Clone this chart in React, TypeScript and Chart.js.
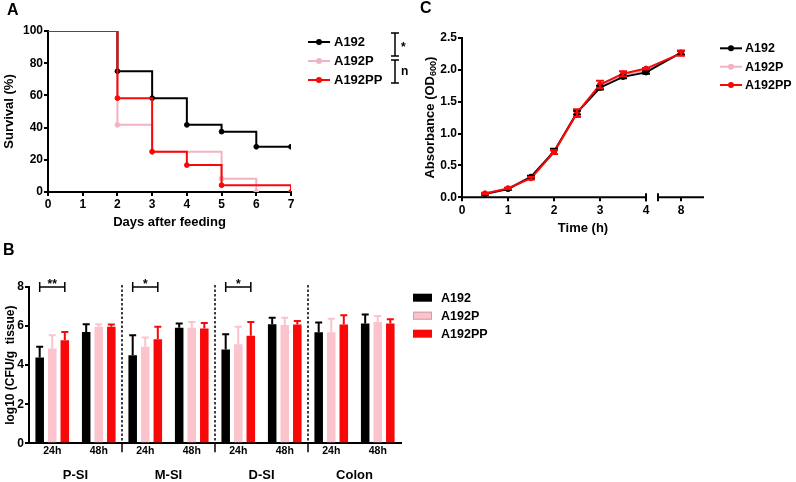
import React, { useEffect, useRef } from "react";
import { Chart, registerables } from "chart.js";

Chart.register(...registerables);

const FONT = "'Liberation Sans', Arial, Helvetica, sans-serif";
const COL_BLACK = "#000000";
const COL_PINK = "#F3B2C1";
const COL_PINK_BAR = "#FBC3CB";
const COL_RED = "#F80808";

const SERIES = ["A192", "A192P", "A192PP"];

// ---------- Panel A : survival ----------
const A_DAY_TICKS = [0, 1, 2, 3, 4, 5, 6, 7];
const A_Y_TICKS = [0, 20, 40, 60, 80, 100];
const A192_DAYS = [0, 2, 3, 4, 5, 6, 7];
const A192_SURV = [100, 75, 58.3, 41.7, 37.5, 28.1, 28.1];
const A192P_DAYS = [0, 2, 3, 5, 6];
const A192P_SURV = [100, 41.7, 25, 8.3, 0];
const A192PP_DAYS = [0, 2, 3, 4, 5, 7];
const A192PP_SURV = [100, 58.3, 25, 16.7, 4.2, 0];
const A_SIG = ["*", "n"];

// ---------- Panel B : colonisation ----------
const B_TIMES = ["24h", "48h", "24h", "48h", "24h", "48h", "24h", "48h"];
const B_SITES = ["P-SI", "M-SI", "D-SI", "Colon"];
const B_Y_TICKS = [0, 2, 4, 6, 8];
const B_A192 = [4.39, 5.7, 4.51, 5.92, 4.8, 6.09, 5.69, 6.13];
const B_A192_ERR = [0.55, 0.39, 1.02, 0.21, 0.78, 0.33, 0.49, 0.46];
const B_A192P = [4.85, 5.96, 4.94, 5.92, 5.07, 6.06, 5.69, 6.21];
const B_A192P_ERR = [0.68, 0.13, 0.47, 0.29, 0.89, 0.36, 0.69, 0.31];
const B_A192PP = [5.28, 5.96, 5.33, 5.87, 5.5, 6.08, 6.08, 6.13];
const B_A192PP_ERR = [0.42, 0.12, 0.63, 0.29, 0.71, 0.18, 0.47, 0.22];
const B_SIG = ["**", "*", "*"];

// ---------- Panel C : growth ----------
const C_TIME = [0.5, 1, 1.5, 2, 2.5, 3, 3.5, 4, 8];
const C_X_TICKS = [0, 1, 2, 3, 4, 8];
const C_Y_TICKS = [0, 0.5, 1, 1.5, 2, 2.5];
const C_A192 = [0.05, 0.13, 0.32, 0.72, 1.33, 1.72, 1.89, 1.96, 2.27];
const C_A192_ERR = [0.01, 0.01, 0.02, 0.04, 0.03, 0.03, 0.02, 0.02, 0.03];
const C_A192P = [0.06, 0.14, 0.33, 0.71, 1.33, 1.75, 1.92, 1.99, 2.26];
const C_A192PP = [0.06, 0.14, 0.3, 0.71, 1.32, 1.77, 1.94, 2.02, 2.26];
const C_A192PP_ERR = [0.01, 0.01, 0.02, 0.03, 0.06, 0.06, 0.04, 0.01, 0.04];
// axis break: 0..4 h shown, then a short segment around 8 h
const C_BREAK_FROM = 4;
const C_BREAK_TO = 8;
const C_BREAK_POS = 4.76;
const C_SEG2_START = 7.5;
const C_SEG2_END = 8.5;
const brk = (t: number) => (t <= C_BREAK_FROM ? t : C_BREAK_POS + (t - C_BREAK_TO));

const bold = (size: number) => ({ family: FONT, size, weight: "bold" as const });

function axisBase(extra: any = {}) {
  return {
    grid: { display: true, drawOnChartArea: false, drawTicks: true, tickLength: 4, color: "#000", lineWidth: 2 },
    border: { display: true, color: "#000", width: 2 },
    ...extra,
  };
}

function drawLineLegend(ctx: CanvasRenderingContext2D, chart: any, x0: number, x1: number, tx: number, ys: number[], size: number) {
  SERIES.forEach((name, i) => {
    const ds = chart.data.datasets.find((d: any) => d.label === name);
    const y = ys[i];
    ctx.save();
    ctx.strokeStyle = ds.borderColor;
    ctx.fillStyle = ds.borderColor;
    ctx.lineWidth = 2;
    ctx.beginPath();
    ctx.moveTo(x0, y);
    ctx.lineTo(x1, y);
    ctx.stroke();
    ctx.beginPath();
    ctx.arc((x0 + x1) / 2, y, 3, 0, Math.PI * 2);
    ctx.fill();
    ctx.fillStyle = "#000";
    ctx.font = `bold ${size}px ${FONT}`;
    ctx.textBaseline = "middle";
    ctx.textAlign = "left";
    ctx.fillText(name, tx, y + 0.5);
    ctx.restore();
  });
}

function configA(): any {
  const mk = (label: string, days: number[], surv: number[], color: string, order: number) => ({
    label,
    data: days.map((d, i) => ({ x: d, y: surv[i] })),
    borderColor: color,
    backgroundColor: color,
    pointBackgroundColor: color,
    pointBorderColor: color,
    pointBorderWidth: 1,
    borderWidth: 2,
    stepped: "before",
    pointRadius: (c: any) => (c.dataIndex === 0 ? 0 : 2.4),
    order,
  });
  return {
    type: "line",
    data: {
      datasets: [
        mk(SERIES[0], A192_DAYS, A192_SURV, COL_BLACK, 1),
        mk(SERIES[1], A192P_DAYS, A192P_SURV, COL_PINK, 2),
        mk(SERIES[2], A192PP_DAYS, A192PP_SURV, COL_RED, 0),
      ],
    },
    options: {
      animation: false,
      responsive: false,
      devicePixelRatio: 1,
      layout: { padding: { left: 0, top: 31, right: 121, bottom: 2 } },
      plugins: { legend: { display: false }, tooltip: { enabled: false } },
      scales: {
        x: axisBase({
          type: "linear",
          min: 0,
          max: 7,
          afterBuildTicks: (s: any) => { s.ticks = A_DAY_TICKS.map((v) => ({ value: v })); },
          afterFit: (s: any) => { s.height = 38; },
          ticks: { font: bold(12), color: "#000", padding: 1.5, maxRotation: 0 },
          title: { display: true, text: "Days after feeding", font: bold(13), color: "#000", padding: { top: 0, bottom: 0 } },
        }),
        y: axisBase({
          type: "linear",
          min: 0,
          max: 100,
          afterBuildTicks: (s: any) => { s.ticks = A_Y_TICKS.map((v) => ({ value: v })); },
          afterFit: (s: any) => { s.width = 48; },
          ticks: { font: bold(12), color: "#000", padding: 1 },
          title: { display: true, text: "Survival (%)", font: bold(13), color: "#000", padding: { top: 2, bottom: 0 } },
        }),
      },
    },
    plugins: [
      {
        id: "aExtras",
        afterDraw(chart: any) {
          const ctx = chart.ctx as CanvasRenderingContext2D;
          drawLineLegend(ctx, chart, 308, 330, 334, [42, 61, 80], 13);
          // significance brackets
          ctx.save();
          ctx.strokeStyle = "#000";
          ctx.lineWidth = 1.5;
          const bx = 395;
          [[33, 56], [60, 83]].forEach(([y0, y1], i) => {
            ctx.beginPath();
            ctx.moveTo(bx - 4, y0); ctx.lineTo(bx + 4, y0);
            ctx.moveTo(bx, y0); ctx.lineTo(bx, y1);
            ctx.moveTo(bx - 4, y1); ctx.lineTo(bx + 4, y1);
            ctx.stroke();
            ctx.fillStyle = "#000";
            ctx.font = `bold 12px ${FONT}`;
            ctx.textAlign = "left";
            ctx.textBaseline = "middle";
            ctx.fillText(A_SIG[i], bx + 6, (y0 + y1) / 2 + (i === 0 ? 3 : 0));
          });
          ctx.restore();
        },
      },
    ],
  };
}

function configB(): any {
  const mk = (label: string, data: number[], err: number[], color: string) => ({
    label,
    data,
    errors: err,
    backgroundColor: color,
    borderWidth: 0,
    categoryPercentage: 0.81,
    barPercentage: 0.68,
  });
  const colors = [COL_BLACK, COL_PINK_BAR, COL_RED];
  return {
    type: "bar",
    data: {
      labels: B_TIMES,
      datasets: [
        mk(SERIES[0], B_A192, B_A192_ERR, COL_BLACK),
        mk(SERIES[1], B_A192P, B_A192P_ERR, COL_PINK_BAR),
        mk(SERIES[2], B_A192PP, B_A192PP_ERR, COL_RED),
      ],
    },
    options: {
      animation: false,
      responsive: false,
      devicePixelRatio: 1,
      layout: { padding: { left: 0, top: 52, right: 139, bottom: 0 } },
      plugins: { legend: { display: false }, tooltip: { enabled: false } },
      scales: {
        x: {
          type: "category",
          grid: { display: false, drawTicks: false },
          border: { display: true, color: "#000", width: 2 },
          afterFit: (s: any) => { s.height = 38.7; },
          ticks: { font: bold(10.5), color: "#000", padding: 2, maxRotation: 0, autoSkip: false },
        },
        y: axisBase({
          type: "linear",
          min: 0,
          max: 8,
          afterBuildTicks: (s: any) => { s.ticks = B_Y_TICKS.map((v) => ({ value: v })); },
          afterFit: (s: any) => { s.width = 29; },
          ticks: { font: bold(12), color: "#000", padding: 1 },
          title: { display: true, text: "log10 (CFU/g  tissue)", font: bold(12), color: "#000", padding: { top: 3, bottom: 0 } },
        }),
      },
    },
    plugins: [
      {
        id: "bExtras",
        afterDatasetsDraw(chart: any) {
          const ctx = chart.ctx as CanvasRenderingContext2D;
          const yS = chart.scales.y;
          ctx.save();
          chart.data.datasets.forEach((ds: any, di: number) => {
            const meta = chart.getDatasetMeta(di);
            ctx.strokeStyle = colors[di];
            ctx.lineWidth = 2;
            meta.data.forEach((el: any, j: number) => {
              const top = yS.getPixelForValue(ds.data[j] + ds.errors[j]);
              ctx.beginPath();
              ctx.moveTo(el.x, el.y);
              ctx.lineTo(el.x, top);
              ctx.moveTo(el.x - 3.5, top);
              ctx.lineTo(el.x + 3.5, top);
              ctx.stroke();
            });
          });
          ctx.restore();
        },
        afterDraw(chart: any) {
          const ctx = chart.ctx as CanvasRenderingContext2D;
          const xS = chart.scales.x;
          const yS = chart.scales.y;
          const area = chart.chartArea;
          ctx.save();
          // section separators
          for (let k = 0; k < B_SITES.length - 1; k++) {
            const sx = (xS.getPixelForValue(2 * k + 1) + xS.getPixelForValue(2 * k + 2)) / 2;
            ctx.strokeStyle = "#000";
            ctx.lineWidth = 1.5;
            ctx.setLineDash([2.5, 2]);
            ctx.beginPath();
            ctx.moveTo(sx, yS.getPixelForValue(8) - 2);
            ctx.lineTo(sx, area.bottom);
            ctx.stroke();
            ctx.setLineDash([]);
            ctx.beginPath();
            ctx.moveTo(sx, area.bottom);
            ctx.lineTo(sx, area.bottom + 9);
            ctx.stroke();
          }
          // site labels
          ctx.fillStyle = "#000";
          ctx.font = `bold 13px ${FONT}`;
          ctx.textAlign = "center";
          ctx.textBaseline = "middle";
          B_SITES.forEach((s, k) => {
            const cx = (xS.getPixelForValue(2 * k) + xS.getPixelForValue(2 * k + 1)) / 2;
            ctx.fillText(s, cx, area.bottom + 32);
          });
          // significance brackets over 24h groups
          const m0 = chart.getDatasetMeta(0);
          const m2 = chart.getDatasetMeta(2);
          const by = yS.getPixelForValue(8);
          ctx.strokeStyle = "#000";
          ctx.lineWidth = 1.5;
          B_SIG.forEach((sig, k) => {
            const x0 = m0.data[2 * k].x;
            const x1 = m2.data[2 * k].x;
            ctx.beginPath();
            ctx.moveTo(x0, by); ctx.lineTo(x1, by);
            ctx.moveTo(x0, by - 5); ctx.lineTo(x0, by + 5);
            ctx.moveTo(x1, by - 5); ctx.lineTo(x1, by + 5);
            ctx.stroke();
            ctx.font = `bold 12px ${FONT}`;
            ctx.textAlign = "center";
            ctx.textBaseline = "alphabetic";
            ctx.fillText(sig, (x0 + x1) / 2, by + 1);
          });
          // legend
          const ys = [62.7, 80.7, 98.7];
          SERIES.forEach((name, i) => {
            ctx.fillStyle = colors[i];
            ctx.fillRect(413, ys[i] - 4, 19, 8);
            if (i === 1) {
              ctx.strokeStyle = "#D99AA3";
              ctx.lineWidth = 1;
              ctx.strokeRect(413.5, ys[i] - 3.5, 18, 7);
            }
            ctx.fillStyle = "#000";
            ctx.font = `bold 12.5px ${FONT}`;
            ctx.textAlign = "left";
            ctx.textBaseline = "middle";
            ctx.fillText(name, 441, ys[i] + 0.5);
          });
          ctx.restore();
        },
      },
    ],
  };
}

function configC(): any {
  const mk = (label: string, vals: number[], err: number[] | null, color: string, order: number) => ({
    label,
    data: C_TIME.map((t, i) => ({ x: brk(t), y: vals[i] })),
    errors: err,
    borderColor: color,
    backgroundColor: color,
    pointBackgroundColor: color,
    pointBorderColor: color,
    pointBorderWidth: 1,
    borderWidth: 2,
    pointRadius: 2.6,
    order,
  });
  return {
    type: "line",
    data: {
      datasets: [
        mk(SERIES[0], C_A192, C_A192_ERR, COL_BLACK, 1),
        mk(SERIES[1], C_A192P, null, COL_PINK, 2),
        mk(SERIES[2], C_A192PP, C_A192PP_ERR, COL_RED, 0),
      ],
    },
    options: {
      animation: false,
      responsive: false,
      devicePixelRatio: 1,
      layout: { padding: { left: 0, top: 38, right: 92, bottom: 4 } },
      plugins: { legend: { display: false }, tooltip: { enabled: false } },
      scales: {
        x: axisBase({
          type: "linear",
          min: 0,
          max: brk(C_SEG2_END),
          border: { display: false },
          afterBuildTicks: (s: any) => { s.ticks = C_X_TICKS.map((v) => ({ value: brk(v) })); },
          afterFit: (s: any) => { s.height = 38.7; },
          ticks: {
            font: bold(12),
            color: "#000",
            padding: 2,
            maxRotation: 0,
            callback: (_v: any, i: number) => String(C_X_TICKS[i]),
          },
          title: { display: true, text: "Time (h)", font: bold(13), color: "#000", padding: { top: 0, bottom: 0 } },
        }),
        y: axisBase({
          type: "linear",
          min: 0,
          max: 2.5,
          afterBuildTicks: (s: any) => { s.ticks = C_Y_TICKS.map((v) => ({ value: v })); },
          afterFit: (s: any) => { s.width = 62; },
          ticks: { font: bold(12), color: "#000", padding: 1, callback: (v: any) => Number(v).toFixed(1) },
          title: { display: false },
        }),
      },
    },
    plugins: [
      {
        id: "cExtras",
        afterDatasetsDraw(chart: any) {
          const ctx = chart.ctx as CanvasRenderingContext2D;
          const yS = chart.scales.y;
          ctx.save();
          [1, 0, 2].forEach((di) => {
            const ds = chart.data.datasets[di];
            if (!ds.errors) return;
            const meta = chart.getDatasetMeta(di);
            ctx.strokeStyle = ds.borderColor;
            ctx.lineWidth = 2;
            meta.data.forEach((el: any, j: number) => {
              const e = ds.errors[j];
              const t = yS.getPixelForValue(ds.data[j].y + e);
              const b = yS.getPixelForValue(ds.data[j].y - e);
              ctx.beginPath();
              ctx.moveTo(el.x, t); ctx.lineTo(el.x, b);
              ctx.moveTo(el.x - 4, t); ctx.lineTo(el.x + 4, t);
              ctx.moveTo(el.x - 4, b); ctx.lineTo(el.x + 4, b);
              ctx.stroke();
            });
          });
          ctx.restore();
        },
        afterDraw(chart: any) {
          const ctx = chart.ctx as CanvasRenderingContext2D;
          const xS = chart.scales.x;
          const area = chart.chartArea;
          const y = area.bottom;
          ctx.save();
          // broken x axis
          ctx.strokeStyle = "#000";
          ctx.lineWidth = 2;
          const pEnd1 = xS.getPixelForValue(C_BREAK_FROM);
          const pStart2 = xS.getPixelForValue(brk(C_SEG2_START));
          ctx.beginPath();
          ctx.moveTo(area.left - 1, y); ctx.lineTo(pEnd1, y);
          ctx.moveTo(pEnd1, y - 4); ctx.lineTo(pEnd1, y + 4);
          ctx.moveTo(pStart2, y - 4); ctx.lineTo(pStart2, y + 4);
          ctx.moveTo(pStart2, y); ctx.lineTo(area.right, y);
          ctx.stroke();
          // y title with subscript
          const cy = (area.top + area.bottom) / 2;
          ctx.translate(30, cy);
          ctx.rotate(-Math.PI / 2);
          ctx.fillStyle = "#000";
          ctx.textBaseline = "middle";
          ctx.textAlign = "left";
          const p1 = "Absorbance (OD";
          const p2 = "600";
          const p3 = ")";
          ctx.font = `bold 13px ${FONT}`;
          const w1 = ctx.measureText(p1).width;
          const w3 = ctx.measureText(p3).width;
          ctx.font = `bold 9px ${FONT}`;
          const w2 = ctx.measureText(p2).width;
          let sx = -(w1 + w2 + w3) / 2;
          ctx.font = `bold 13px ${FONT}`;
          ctx.fillText(p1, sx, 0);
          sx += w1;
          ctx.font = `bold 9px ${FONT}`;
          ctx.fillText(p2, sx, 4);
          sx += w2;
          ctx.font = `bold 13px ${FONT}`;
          ctx.fillText(p3, sx, 0);
          ctx.setTransform(1, 0, 0, 1, 0, 0);
          ctx.restore();
          // legend
          drawLineLegend(ctx, chart, 320, 342, 345, [48.3, 66.7, 85], 12.5);
        },
      },
    ],
  };
}

export default function App() {
  const refA = useRef<HTMLCanvasElement>(null);
  const refB = useRef<HTMLCanvasElement>(null);
  const refC = useRef<HTMLCanvasElement>(null);

  useEffect(() => {
    const charts = [
      new Chart(refA.current as HTMLCanvasElement, configA()),
      new Chart(refB.current as HTMLCanvasElement, configB()),
      new Chart(refC.current as HTMLCanvasElement, configC()),
    ];
    return () => charts.forEach((c) => c.destroy());
  }, []);

  const label = (text: string, left: number, top: number) => (
    <div style={{ position: "absolute", left, top, fontFamily: FONT, fontWeight: "bold", fontSize: 16, lineHeight: "18px", color: "#000" }}>{text}</div>
  );

  return (
    <div style={{ position: "fixed", left: 0, top: 0, width: 796, height: 482, background: "#fff", overflow: "hidden" }}>
      <canvas ref={refA} width={412} height={232} style={{ position: "absolute", left: 0, top: 0, width: 412, height: 232 }} />
      <canvas ref={refC} width={396} height={240} style={{ position: "absolute", left: 400, top: 0, width: 396, height: 240 }} />
      <canvas ref={refB} width={540} height={247} style={{ position: "absolute", left: 0, top: 235, width: 540, height: 247 }} />
      {label("A", 7, 1)}
      {label("C", 420, -1)}
      {label("B", 3, 241)}
    </div>
  );
}
